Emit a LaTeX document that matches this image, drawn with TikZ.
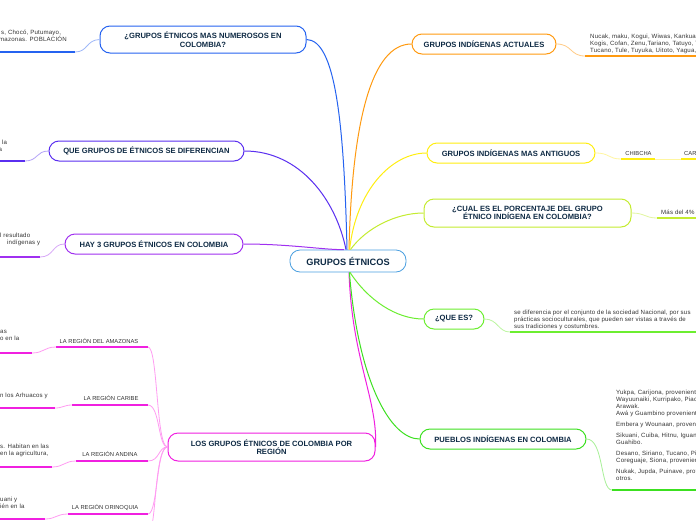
\documentclass[tikz,border=0pt]{standalone}
\usepackage{fontspec}
\setmainfont{Liberation Sans}
\newfontfamily\notefont[LetterSpace=3.3]{Liberation Sans}
\definecolor{navy}{HTML}{0E2A44}
\definecolor{txt}{HTML}{333333}
\definecolor{ccenter}{HTML}{4A9FE0}
\definecolor{cblue}{HTML}{2563F0}
\definecolor{cblueL}{HTML}{9FB8F8}
\definecolor{cindigo}{HTML}{5A2FF0}
\definecolor{cindigoL}{HTML}{B4A4F8}
\definecolor{cpurple}{HTML}{A030F0}
\definecolor{cpurpleL}{HTML}{D8A8F8}
\definecolor{cmag}{HTML}{F020E0}
\definecolor{cmagL}{HTML}{FF9CF2}
\definecolor{corange}{HTML}{FF9A10}
\definecolor{corangeL}{HTML}{FFCC88}
\definecolor{cyellow}{HTML}{FFEE10}
\definecolor{cyellowL}{HTML}{FFF6A0}
\definecolor{clime}{HTML}{C4EC30}
\definecolor{climeL}{HTML}{E2F6A0}
\definecolor{cgreen}{HTML}{6CEE30}
\definecolor{cgreenL}{HTML}{BCF6A0}
\definecolor{cgreen2}{HTML}{3CE020}
\definecolor{cgreen2L}{HTML}{A8F098}
\begin{document}
\begin{tikzpicture}[x=1pt,y=-1pt,
  topic/.style={draw, rounded corners=10pt, line width=1pt, fill=white,
    font=\fontsize{7.6}{8.6}\selectfont\bfseries, text=navy, align=center, inner sep=0pt},
  note/.style={font=\notefont\fontsize{6.1}{7}\selectfont, text=txt, align=left, anchor=north west, inner sep=0pt},
  sublabel/.style={font=\fontsize{5.8}{7}\selectfont, text=txt, inner sep=0pt},
  link/.style={line width=1pt},
  thin/.style={line width=0.8pt},
  thick/.style={line width=1.6pt}]
\useasboundingbox (0,0) rectangle (696,520);
\fill[white] (0,0) rectangle (696,520);

% ---- nodes ----
\node[topic, draw=ccenter, line width=0.8pt, minimum width=116, minimum height=22,
  font=\fontsize{9.2}{10}\selectfont\bfseries] (c) at (348,261) {GRUPOS ÉTNICOS};
\node[topic, draw=cblue, minimum width=206, minimum height=27] (n1) at (203,39.5) {¿GRUPOS ÉTNICOS MAS NUMEROSOS EN\\COLOMBIA?};
\node[topic, draw=cindigo, minimum width=195, minimum height=20] (n2) at (146.5,151) {QUE GRUPOS DE ÉTNICOS SE DIFERENCIAN};
\node[topic, draw=cpurple, minimum width=178, minimum height=20] (n3) at (154,244) {HAY 3 GRUPOS ÉTNICOS EN COLOMBIA};
\node[topic, draw=cmag, minimum width=207, minimum height=28] (n4) at (271.5,447) {LOS GRUPOS ÉTNICOS DE COLOMBIA POR\\REGIÓN};
\node[topic, draw=corange, minimum width=144, minimum height=20] (r1) at (484,44) {GRUPOS INDÍGENAS ACTUALES};
\node[topic, draw=cyellow, minimum width=168, minimum height=20] (r2) at (511,153) {GRUPOS INDÍGENAS MAS ANTIGUOS};
\node[topic, draw=clime, minimum width=207, minimum height=28] (r3) at (527.5,213) {¿CUAL ES EL PORCENTAJE DEL GRUPO\\ÉTNICO INDÍGENA EN COLOMBIA?};
\node[topic, draw=cgreen, minimum width=60, minimum height=20] (r4) at (454,319) {¿QUE ES?};
\node[topic, draw=cgreen2, minimum width=166, minimum height=20] (r5) at (503,439) {PUEBLOS INDÍGENAS EN COLOMBIA};

% ---- connectors from the centre ----
\draw[link, cblue] (c.95) .. controls (344,120) and (335,40) .. (n1.east);
\draw[link, cindigo] (c.100) .. controls (336,200) and (300,151) .. (n2.east);
\draw[link, cpurple] (c.110) .. controls (325,250) and (290,244) .. (n3.east);
\draw[link, cmag] (c.-85) .. controls (352,360) and (378,400) .. (n4.east);
\draw[link, corange] (c.85) .. controls (352,120) and (372,44) .. (r1.west);
\draw[link, cyellow] (c.82) .. controls (356,190) and (392,153) .. (r2.west);
\draw[link, clime] (c.78) .. controls (366,228) and (396,213) .. (r3.west);
\draw[link, cgreen] (c.-80) .. controls (368,300) and (396,319) .. (r4.west);
\draw[link, cgreen2] (c.-83) .. controls (358,380) and (390,439) .. (r5.west);

% ---- left: n1 ----
\coordinate (n1a) at (75,52);
\coordinate (n1b) at (0,52);
\draw[thin, cblueL] (n1.west) .. controls (86,40) and (88,52) .. (n1a);
\draw[thick, cblue] (n1a) -- (n1b);
\node[note] (t1) at (1,30) {s, Chocó, Putumayo,\\\hspace*{-2pt}mazonas. POBLACIÓN};

% ---- left: n2 ----
\coordinate (n2a) at (25,161);
\coordinate (n2b) at (0,161);
\draw[thin, cindigoL] (n2.west) .. controls (36,151) and (38,161) .. (n2a);
\draw[thick, cindigo] (n2a) -- (n2b);
\node[note] (t2) at (2,140) {la\\[-0.5pt]\hspace*{-3.5pt}a};

% ---- left: n3 ----
\coordinate (n3a) at (40,257);
\coordinate (n3b) at (0,257);
\draw[thin, cpurpleL] (n3.west) .. controls (52,244) and (54,257) .. (n3a);
\draw[thick, cpurple] (n3a) -- (n3b);
\node[note] (t3) at (0,233) {l resultado\\\hspace*{7pt}indígenas y};

% ---- left: n4 regions ----
\node[sublabel] (l1) at (99,341.5) {LA REGIÓN DEL AMAZONAS};
\node[sublabel] (l2) at (111,398.5) {LA REGIÓN CARIBE};
\node[sublabel] (l3) at (110,454.5) {LA REGIÓN ANDINA};
\node[sublabel] (l4) at (105,507.5) {LA REGIÓN ORINOQUIA};
\coordinate (a1) at (148,347); \coordinate (a2) at (56,347); \coordinate (a3) at (32,353); \coordinate (a4) at (0,353);
\coordinate (b1) at (148,405); \coordinate (b2) at (72,405); \coordinate (b3) at (55,408); \coordinate (b4) at (0,408);
\coordinate (d1) at (148,461); \coordinate (d2) at (76,461); \coordinate (d3) at (52,467); \coordinate (d4) at (0,467);
\coordinate (e1) at (148,514); \coordinate (e2) at (68,514); \coordinate (e3) at (45,519); \coordinate (e4) at (0,519);
\coordinate (f1) at (150,530);
\draw[thin, cmagL] (n4.west) .. controls (156,447) and (158,347) .. (a1);
\draw[thin, cmagL] (n4.west) .. controls (158,447) and (160,405) .. (b1);
\draw[thin, cmagL] (n4.west) .. controls (158,447) and (160,461) .. (d1);
\draw[thin, cmagL] (n4.west) .. controls (156,447) and (158,514) .. (e1);
\draw[thin, cmagL] (n4.west) .. controls (155,447) and (156,525) .. (f1);
\draw[thick, cmag] (a1) -- (a2);
\draw[thin, cmagL] (a2) .. controls (44,347) and (44,353) .. (a3);
\draw[thick, cmag] (a3) -- (a4);
\draw[thick, cmag] (b1) -- (b2);
\draw[thin, cmagL] (b2) .. controls (64,405) and (63,408) .. (b3);
\draw[thick, cmag] (b3) -- (b4);
\draw[thick, cmag] (d1) -- (d2);
\draw[thin, cmagL] (d2) .. controls (64,461) and (64,467) .. (d3);
\draw[thick, cmag] (d3) -- (d4);
\draw[thick, cmag] (e1) -- (e2);
\draw[thin, cmagL] (e2) .. controls (56,514) and (56,519) .. (e3);
\draw[thick, cmag] (e3) -- (e4);
\node[note] (ta) at (0,330) {as\\o en la};
\node[note] (tb) at (0,392.5) {n los Arhuacos y};
\node[note] (td) at (0,444) {s. Habitan en las\\en la agricultura,};
\node[note] (te) at (0,497) {uani y\\ién en la};

% ---- right: r1 ----
\coordinate (r1a) at (585,56); \coordinate (r1b) at (696,56);
\draw[thin, corangeL] (r1.east) .. controls (572,44) and (570,56) .. (r1a);
\draw[thick, corange] (r1a) -- (r1b);
\node[note] (u1) at (590,33.5) {Nucak, maku, Kogui, Wiwas, Kankuam\\Kogis, Cofan, Zenu,Tariano, Tatuyo, Ti\\Tucano, Tule, Tuyuka, Uitoto, Yagua, Y};

% ---- right: r2 ----
\coordinate (r2a) at (621,159); \coordinate (r2b) at (655,159);
\coordinate (r2c) at (681,159); \coordinate (r2d) at (696,159);
\draw[thin, cyellowL] (r2.east) .. controls (610,153) and (608,159) .. (r2a);
\draw[thick, cyellow] (r2a) -- (r2b);
\draw[thin, cyellowL] (r2b) -- (r2c);
\draw[thick, cyellow] (r2c) -- (r2d);
\node[sublabel] (u2) at (638.5,153.5) {CHIBCHA};
\node[sublabel, anchor=west] (u2b) at (684,153.5) {CAR};

% ---- right: r3 ----
\coordinate (r3a) at (657,218); \coordinate (r3b) at (696,218);
\draw[thin, climeL] (r3.east) .. controls (645,213) and (645,218) .. (r3a);
\draw[thick, clime] (r3a) -- (r3b);
\node[note] (u3) at (661,209.5) {Más del 4\%};

% ---- right: r4 ----
\coordinate (r4a) at (510,332); \coordinate (r4b) at (696,332);
\draw[thin, cgreenL] (r4.east) .. controls (498,319) and (498,332) .. (r4a);
\draw[thick, cgreen] (r4a) -- (r4b);
\node[note] (u4) at (514,309.5) {se diferencia por el conjunto de la sociedad Nacional, por sus\\prácticas socioculturales, que pueden ser vistas a través de\\sus tradiciones y costumbres.};

% ---- right: r5 ----
\coordinate (r5a) at (612,490); \coordinate (r5b) at (696,490);
\draw[thin, cgreen2L] (r5.east) .. controls (604,439) and (600,490) .. (r5a);
\draw[thick, cgreen2] (r5a) -- (r5b);
\node[note] (u5) at (616,390) {Yukpa, Carijona, proveniente\\Wayuunaiki, Kurripako, Piacp\\Arawak.\\Awá y Guambino proveniente\\[4pt]Embera y Wounaan, provenie\\[4pt]Sikuani, Cuiba, Hitnu, Iguani\\Guahibo.\\[4pt]Desano, Siriano, Tucano, Pira\\Coreguaje, Siona, provenient\\[4pt]Nukak, Jupda, Puinave, prov\\otros.};
\end{tikzpicture}
\end{document}
